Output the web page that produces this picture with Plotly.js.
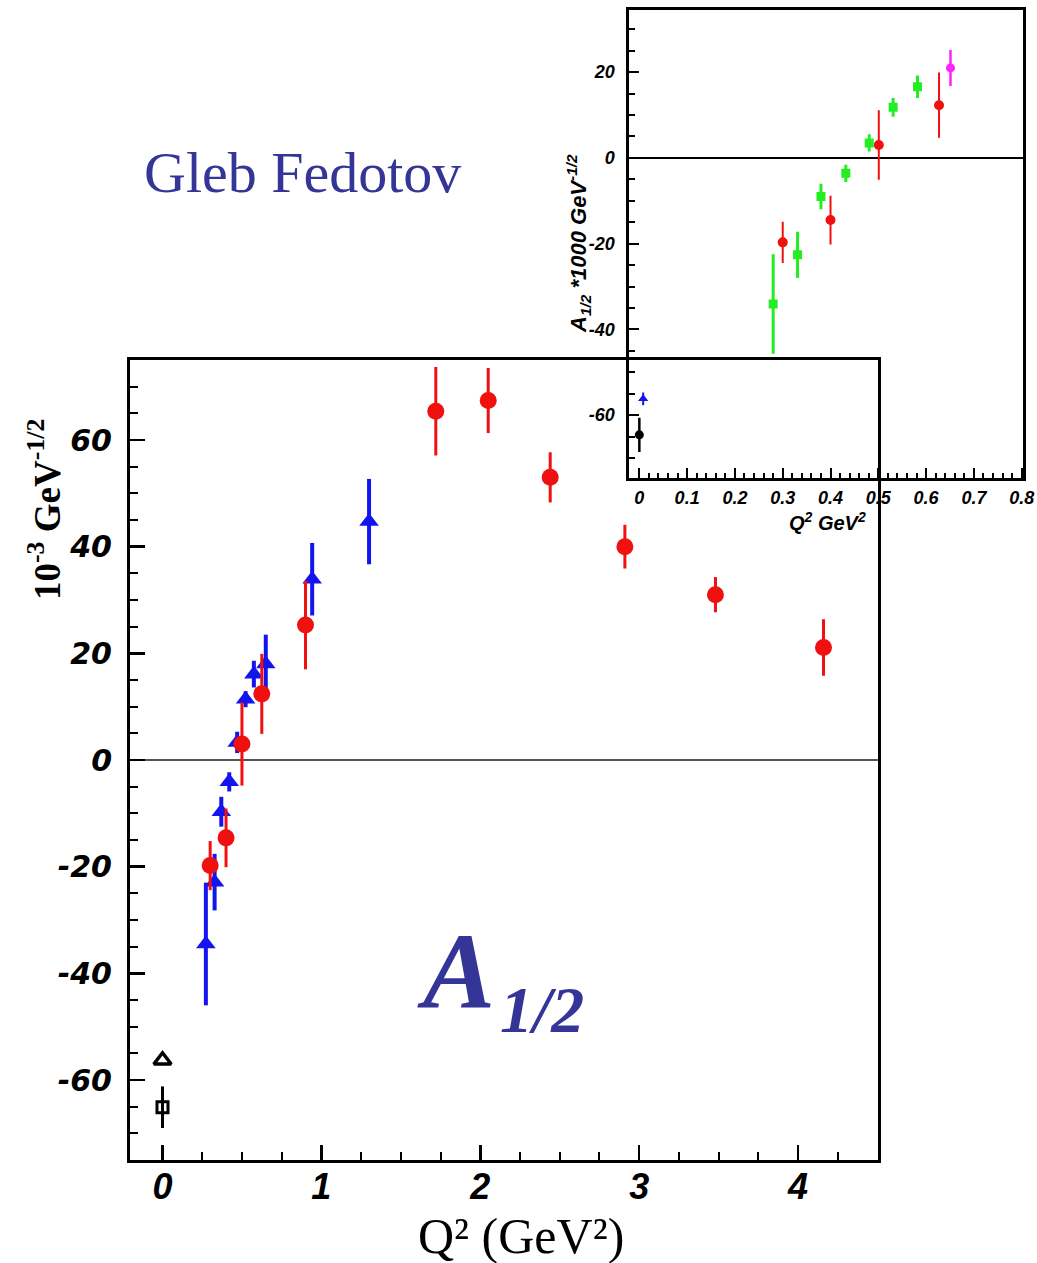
<!DOCTYPE html>
<html>
<head>
<meta charset="utf-8">
<script src="https://cdn.plot.ly/plotly-3.0.1.min.js"></script>
<style>html,body{margin:0;padding:0;background:#fff;}#chart{width:1037px;height:1263px;}</style>
</head>
<body>
<div id="chart"></div>
<script>
// ---------- main panel data ----------
const blueQ2  = [0.273, 0.328, 0.37, 0.42, 0.47, 0.523, 0.575, 0.65, 0.942, 1.30];
const blueA   = [-34.5, -22.9, -9.7, -4.1, 3.3, 11.4, 16.1, 18.0, 33.9, 44.7];
const blueErr = [11.5, 5.3, 2.8, 1.8, 2.0, 1.5, 2.5, 5.5, 6.8, 8.0];

const redQ2  = [0.30, 0.40, 0.50, 0.625, 0.90, 1.72, 2.05, 2.44, 2.91, 3.48, 4.16];
const redA   = [-19.8, -14.6, 3.0, 12.4, 25.3, 65.4, 67.4, 53.0, 40.0, 31.0, 21.1];
const redErr = [4.6, 5.5, 7.8, 7.5, 8.3, 8.3, 6.1, 4.7, 4.1, 3.3, 5.3];

const photoTriQ2 = [0];
const photoTriA  = [-56.3];
const photoSqQ2  = [0];
const photoSqA   = [-65.1];
const photoSqErr = [3.9];

const mainYTickVals = [-60, -40, -20, 0, 20, 40, 60];
const mainYTickText = ['-60', '-40', '-20', '0', '20', '40', '60'];
const mainXTickVals = [0, 1, 2, 3, 4];
const mainXTickText = ['0', '1', '2', '3', '4'];

// ---------- inset data ----------
const inGreenQ2  = [0.280, 0.331, 0.380, 0.432, 0.481, 0.531, 0.582];
const inGreenA   = [-34.1, -22.6, -9.0, -3.6, 3.5, 11.8, 16.6];
const inGreenErr = [11.6, 5.4, 3.0, 2.0, 2.0, 2.2, 2.6];

const inRedQ2  = [0.30, 0.40, 0.501, 0.627];
const inRedA   = [-19.7, -14.5, 3.0, 12.3];
const inRedErr = [4.8, 5.7, 8.1, 7.6];

const inMagQ2  = [0.651];
const inMagA   = [21.0];
const inMagErr = [4.2];

const inBlackQ2  = [0];
const inBlackA   = [-64.6];
const inBlackErr = [4.0];

const inBlueQ2  = [0.008];
const inBlueA   = [-56.2];
const inBlueErr = [1.5];

const inYTickVals = [-60, -40, -20, 0, 20];
const inYTickText = ['-60', '-40', '-20', '0', '20'];
const inXTickVals = [0, 0.1, 0.2, 0.3, 0.4, 0.5, 0.6, 0.7, 0.8];
const inXTickText = ['0', '0.1', '0.2', '0.3', '0.4', '0.5', '0.6', '0.7', '0.8'];

// ---------- geometry ----------
const W = 1037, H = 1263;
const px = v => v / W;
const py = v => 1 - v / H;

const RED = '#f01010', BLUE = '#1414ee', GREEN = '#22ee22', MAG = '#ff22ff', NAVY = '#343597';

const err = (arr, color, th) => ({type: 'data', array: arr, visible: true, color: color, thickness: th, width: 0});

const traces = [
  {x: blueQ2, y: blueA, type: 'scatter', mode: 'markers', xaxis: 'x', yaxis: 'y',
   marker: {symbol: 'triangle-up', size: 17, color: BLUE}, error_y: err(blueErr, BLUE, 4)},
  {x: redQ2, y: redA, type: 'scatter', mode: 'markers', xaxis: 'x', yaxis: 'y',
   marker: {symbol: 'circle', size: 17, color: RED}, error_y: err(redErr, RED, 3)},
  {x: photoTriQ2, y: photoTriA, type: 'scatter', mode: 'markers', xaxis: 'x', yaxis: 'y',
   marker: {symbol: 'triangle-up-open', size: 15, color: '#000', line: {width: 3.5, color: '#000'}}},
  {x: photoSqQ2, y: photoSqA, type: 'scatter', mode: 'markers', xaxis: 'x', yaxis: 'y',
   marker: {symbol: 'square-open', size: 11, color: '#000', line: {width: 3, color: '#000'}},
   error_y: err(photoSqErr, '#000', 3)},

  {x: inGreenQ2, y: inGreenA, type: 'scatter', mode: 'markers', xaxis: 'x2', yaxis: 'y2',
   marker: {symbol: 'square', size: 9, color: GREEN}, error_y: err(inGreenErr, GREEN, 3)},
  {x: inRedQ2, y: inRedA, type: 'scatter', mode: 'markers', xaxis: 'x2', yaxis: 'y2',
   marker: {symbol: 'circle', size: 10, color: RED}, error_y: err(inRedErr, RED, 2)},
  {x: inMagQ2, y: inMagA, type: 'scatter', mode: 'markers', xaxis: 'x2', yaxis: 'y2',
   marker: {symbol: 'circle', size: 9, color: MAG}, error_y: err(inMagErr, MAG, 2.5)},
  {x: inBlackQ2, y: inBlackA, type: 'scatter', mode: 'markers', xaxis: 'x2', yaxis: 'y2',
   marker: {symbol: 'circle', size: 9, color: '#000'}, error_y: err(inBlackErr, '#000', 2.5)},
  {x: inBlueQ2, y: inBlueA, type: 'scatter', mode: 'markers', xaxis: 'x2', yaxis: 'y2',
   marker: {symbol: 'triangle-up', size: 9, color: BLUE}, error_y: err(inBlueErr, BLUE, 2)}
];

const sansBI = (fam, s) => ({family: fam, size: s, color: '#000', weight: 'bold', style: 'italic'});
const LIB = 'Liberation Sans, Arial, sans-serif';
const DJV = 'DejaVu Sans, Liberation Sans, sans-serif';

const layout = {
  width: W, height: H,
  margin: {l: 0, r: 0, t: 0, b: 0, pad: 0},
  paper_bgcolor: '#fff',
  plot_bgcolor: 'rgba(0,0,0,0)',
  showlegend: false,
  xaxis: {
    domain: [px(130), px(878)], range: [-0.2045, 4.503], anchor: 'y',
    showline: true, linecolor: '#000', linewidth: 3, mirror: true,
    showgrid: false, zeroline: false,
    tickmode: 'array', tickvals: mainXTickVals, ticktext: mainXTickText,
    ticks: 'inside', ticklen: 15, tickwidth: 2.5, tickcolor: '#000',
    minor: {dtick: 0.25, tick0: 0, ticks: 'inside', ticklen: 8, tickwidth: 2, tickcolor: '#000', showgrid: false},
    tickfont: sansBI(LIB, 36), ticklabelstandoff: -7
  },
  yaxis: {
    domain: [py(1160), py(360)], range: [-75.0, 75.0], anchor: 'x',
    showline: true, linecolor: '#000', linewidth: 3, mirror: true,
    showgrid: false, zeroline: true, zerolinecolor: '#555', zerolinewidth: 1.2,
    tickmode: 'array', tickvals: mainYTickVals, ticktext: mainYTickText,
    ticks: 'inside', ticklen: 15, tickwidth: 2.5, tickcolor: '#000',
    minor: {dtick: 5, tick0: 0, ticks: 'inside', ticklen: 8, tickwidth: 2, tickcolor: '#000', showgrid: false},
    tickfont: sansBI(DJV, 30), ticklabelstandoff: 9
  },
  xaxis2: {
    domain: [px(629.3), px(1023)], range: [-0.021, 0.8027], anchor: 'y2',
    showline: true, linecolor: '#000', linewidth: 3, mirror: true,
    showgrid: false, zeroline: false,
    tickmode: 'array', tickvals: inXTickVals, ticktext: inXTickText,
    ticks: 'inside', ticklen: 10, tickwidth: 2, tickcolor: '#000',
    minor: {dtick: 0.02, tick0: 0, ticks: 'inside', ticklen: 5, tickwidth: 2, tickcolor: '#000', showgrid: false},
    tickfont: sansBI(LIB, 18), ticklabelstandoff: 2
  },
  yaxis2: {
    domain: [py(477.7), py(9.6)], range: [-74.6, 34.6], anchor: 'x2',
    showline: true, linecolor: '#000', linewidth: 3, mirror: true,
    showgrid: false, zeroline: true, zerolinecolor: '#000', zerolinewidth: 2,
    tickmode: 'array', tickvals: inYTickVals, ticktext: inYTickText,
    ticks: 'inside', ticklen: 10, tickwidth: 2, tickcolor: '#000',
    minor: {dtick: 5, tick0: 0, ticks: 'inside', ticklen: 6, tickwidth: 2, tickcolor: '#000', showgrid: false},
    tickfont: sansBI(LIB, 18), ticklabelstandoff: 8
  },
  annotations: [
    {text: 'Gleb Fedotov', xref: 'paper', yref: 'paper', x: px(302.5), y: py(173), xanchor: 'center', yanchor: 'middle',
     showarrow: false, font: {family: 'Liberation Serif, Times New Roman, serif', size: 58, color: NAVY}},
    {text: 'A', xref: 'paper', yref: 'paper', x: px(456), y: py(971), xanchor: 'center', yanchor: 'middle',
     showarrow: false, font: {family: 'Liberation Serif, Times New Roman, serif', size: 108, color: NAVY, weight: 'bold', style: 'italic'}},
    {text: '1/2', xref: 'paper', yref: 'paper', x: px(541.5), y: py(1009), xanchor: 'center', yanchor: 'middle',
     showarrow: false, font: {family: 'Liberation Serif, Times New Roman, serif', size: 66, color: NAVY, weight: 'bold', style: 'italic'}},
    {text: '10<sup>-3</sup> GeV<sup>-1/2</sup>', xref: 'paper', yref: 'paper', x: px(44), y: py(510), xanchor: 'center', yanchor: 'middle',
     textangle: -90, showarrow: false, font: {family: 'Liberation Serif, Times New Roman, serif', size: 37, color: '#000', weight: 'bold'}},
    {text: 'Q² (GeV²)', xref: 'paper', yref: 'paper', x: px(521), y: py(1236), xanchor: 'center', yanchor: 'middle',
     showarrow: false, font: {family: 'Liberation Serif, Times New Roman, serif', size: 50, color: '#000'}},
    {text: 'A<sub>1/2</sub> *1000 GeV<sup>-1/2</sup>', xref: 'paper', yref: 'paper', x: px(578), y: py(244), xanchor: 'center', yanchor: 'middle',
     textangle: -90, showarrow: false, font: {family: LIB, size: 22, color: '#000', weight: 'bold', style: 'italic'}},
    {text: 'Q<sup>2</sup> GeV<sup>2</sup>', xref: 'paper', yref: 'paper', x: px(827), y: py(521), xanchor: 'center', yanchor: 'middle',
     showarrow: false, font: {family: LIB, size: 20, color: '#000', weight: 'bold', style: 'italic'}}
  ]
};

Plotly.newPlot('chart', traces, layout, {displayModeBar: false, staticPlot: true});
</script>
</body>
</html>
